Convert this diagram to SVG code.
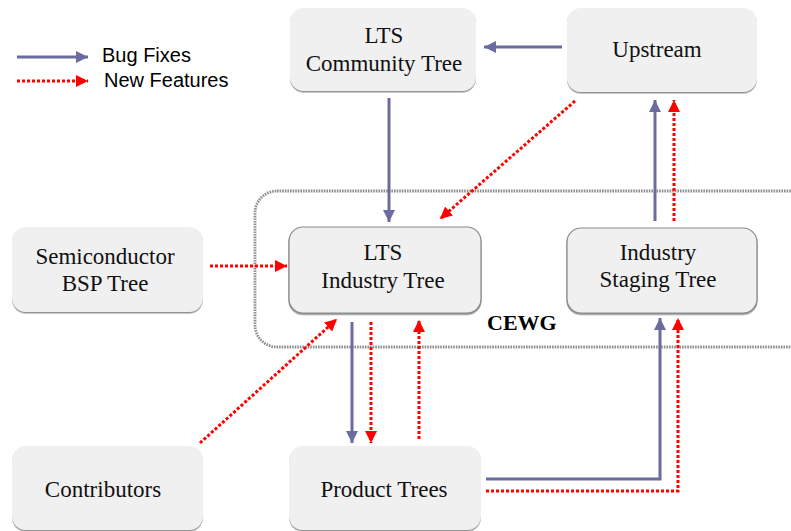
<svg xmlns="http://www.w3.org/2000/svg" width="791" height="531" viewBox="0 0 791 531">
  <defs>
    <filter id="shadow" x="-5%" y="-5%" width="110%" height="115%">
      <feDropShadow dx="0" dy="1.5" stdDeviation="0.7" flood-color="#777" flood-opacity="0.8"/>
    </filter>
    <marker id="arrow-fix" markerUnits="userSpaceOnUse" markerWidth="14" markerHeight="14" refX="12" refY="6" orient="auto">
      <path d="M0,0 L12,6 L0,12 z" fill="#6b6b9f"/>
    </marker>
    <marker id="arrow-feat" markerUnits="userSpaceOnUse" markerWidth="14" markerHeight="14" refX="12" refY="6" orient="auto">
      <path d="M0,0 L12,6 L0,12 z" fill="#ff0000"/>
    </marker>
  </defs>
  <style>
    .node rect { fill: #f0f0f0; filter: url(#shadow); }
    .node.framed rect { stroke: #8a8a8a; stroke-width: 1.2; }
    .node text { font-size: 23px; fill: #111; text-anchor: middle; }
    .fix { fill: none; stroke: #6b6b9f; stroke-width: 3; marker-end: url(#arrow-fix); }
    .feat { fill: none; stroke: #ff0000; stroke-width: 3; stroke-dasharray: 3 2; marker-end: url(#arrow-feat); }
    .legend text { font-size: 20px; fill: #000; }
  </style>

  <rect width="791" height="531" fill="#ffffff"/>

  <!-- CEWG group boundary -->
  <g id="cewg">
    <rect x="255" y="191" width="560" height="156" rx="22" fill="none" stroke="#8f8f8f" stroke-width="2.8" stroke-dasharray="1.6 1"/>
    <text x="487" y="330" font-family="Liberation Serif, serif" font-size="22" font-weight="bold" fill="#000">CEWG</text>
  </g>

  <!-- Legend -->
  <g id="legend" class="legend" font-family="Liberation Sans, Arial, sans-serif">
    <line x1="17" y1="57" x2="88" y2="57" class="fix"/>
    <text x="102" y="62">Bug Fixes</text>
    <line x1="17" y1="81" x2="88" y2="81" class="feat"/>
    <text x="104" y="87">New Features</text>
  </g>

  <!-- Nodes -->
  <g font-family="Liberation Serif, serif">
    <g id="lts-community" class="node">
      <rect x="290" y="8" width="186" height="83" rx="14"/>
      <text x="384" y="43">LTS</text>
      <text x="384" y="71">Community Tree</text>
    </g>
    <g id="upstream" class="node">
      <rect x="567" y="8" width="190" height="84" rx="14"/>
      <text x="657" y="57">Upstream</text>
    </g>
    <g id="semiconductor-bsp" class="node">
      <rect x="12" y="227" width="191" height="85" rx="14"/>
      <text x="105" y="264">Semiconductor</text>
      <text x="105" y="291">BSP Tree</text>
    </g>
    <g id="lts-industry" class="node framed">
      <rect x="289" y="227" width="192" height="86" rx="14"/>
      <text x="383" y="260">LTS</text>
      <text x="383" y="288">Industry Tree</text>
    </g>
    <g id="industry-staging" class="node framed">
      <rect x="567" y="228" width="190" height="85" rx="14"/>
      <text x="658" y="260">Industry</text>
      <text x="658" y="287">Staging Tree</text>
    </g>
    <g id="contributors" class="node">
      <rect x="12" y="446" width="191" height="84" rx="14"/>
      <text x="103" y="497">Contributors</text>
    </g>
    <g id="product-trees" class="node">
      <rect x="289" y="446" width="192" height="84" rx="14"/>
      <text x="384" y="497">Product Trees</text>
    </g>
  </g>

  <!-- Connectors -->
  <g id="connectors">
    <path class="fix" d="M562,47 L484,47"/>
    <path class="fix" d="M389,98 L389,222"/>
    <path class="feat" d="M575,101 L440,219"/>
    <path class="feat" d="M210,266 L287,266"/>
    <path class="feat" d="M200,443 L337,319"/>
    <path class="fix" d="M352,322 L352,443"/>
    <path class="feat" d="M371,322 L371,443"/>
    <path class="feat" d="M419,439 L419,320"/>
    <path class="fix" d="M655,221 L655,100"/>
    <path class="feat" d="M674,221 L674,100"/>
    <path class="fix" d="M486,479 L660,479 L660,318"/>
    <path class="feat" d="M486,491 L678,491 L678,318"/>
  </g>
</svg>
